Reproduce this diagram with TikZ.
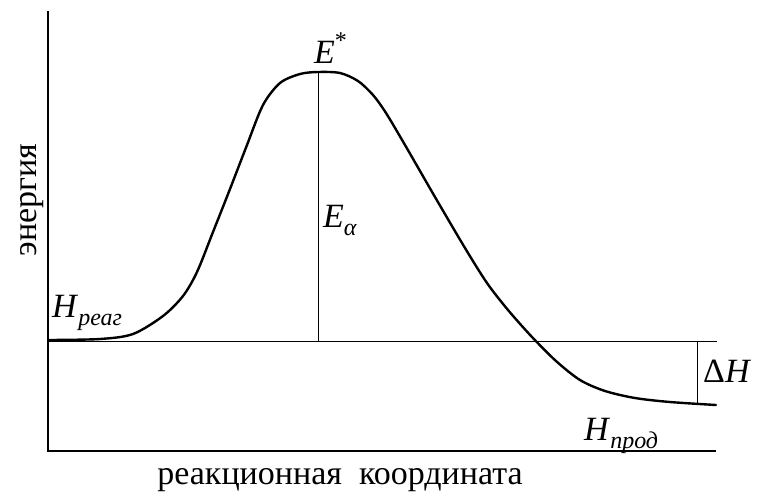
\documentclass[tikz,border=0pt]{standalone}
\usepackage{fontspec}
\setmainfont{Liberation Serif}
\newfontfamily\lserif{Liberation Serif}
\tikzset{
  axis/.style={line width=2.6pt},
  curve/.style={line width=2.4pt, line join=round, line cap=round},
  thin/.style={line width=0.9pt},
  lbl/.style={inner sep=0pt, font=\lserif\fontsize{34}{38}\selectfont}
}
\newcommand{\itsub}[2]{\textit{#1}\raisebox{-0.25em}{\fontsize{24}{26}\selectfont\textit{#2}}}
\begin{document}
\begin{tikzpicture}[x=1pt,y=-1pt]
\useasboundingbox (0,0) rectangle (760,496);
% axes
\coordinate (ytop) at (48,11);
\coordinate (orig) at (48,451);
\coordinate (xend) at (716,451);
\draw[axis] (ytop) -- (orig) -- (xend);
% reactant level line
\coordinate (r0) at (48,341);
\coordinate (r1) at (717,341);
\draw[thin] (r0) -- (r1);
% E* vertical
\coordinate (etop) at (318,72);
\coordinate (ebot) at (318,341);
\draw[thin] (etop) -- (ebot);
% Delta H vertical
\coordinate (dtop) at (697,341);
\coordinate (dbot) at (697,404);
\draw[thin] (dtop) -- (dbot);
% curve
\draw[curve] plot[smooth, tension=0.5] coordinates {
 (48,340) (100,339) (133,334) (163,316) (183,296) (197,272)
 (213,232) (230,189) (247,145) (263,105) (280,83) (300,74) (318,72)
 (340,73) (358,81) (373,95) (386,113) (405,145) (435,197) (465,248)
 (487,283) (508,310) (532,337) (556,361) (580,380) (605,391) (635,398)
 (670,402) (716,405)};
% labels
\node[lbl, anchor=base west] (estar) at (314,63) {\textit{E}\raisebox{0.42em}{\fontsize{24}{26}\selectfont *}};
\node[lbl, anchor=base west] (ea) at (323,227) {\itsub{E}{α}};
\node[lbl, anchor=base west] (hr) at (52,317) {\itsub{H}{реаг}};
\node[lbl, anchor=base west] (dh) at (703,382) {Δ\textit{H}};
\node[lbl, anchor=base west] (hp) at (584,440) {\itsub{H}{прод}};
\node[lbl, rotate=90, anchor=base] (ylab) at (36,200) {энергия};
\node[lbl, anchor=base] (xlab) at (340,484) {реакционная\ \ координата};
\end{tikzpicture}
\end{document}
